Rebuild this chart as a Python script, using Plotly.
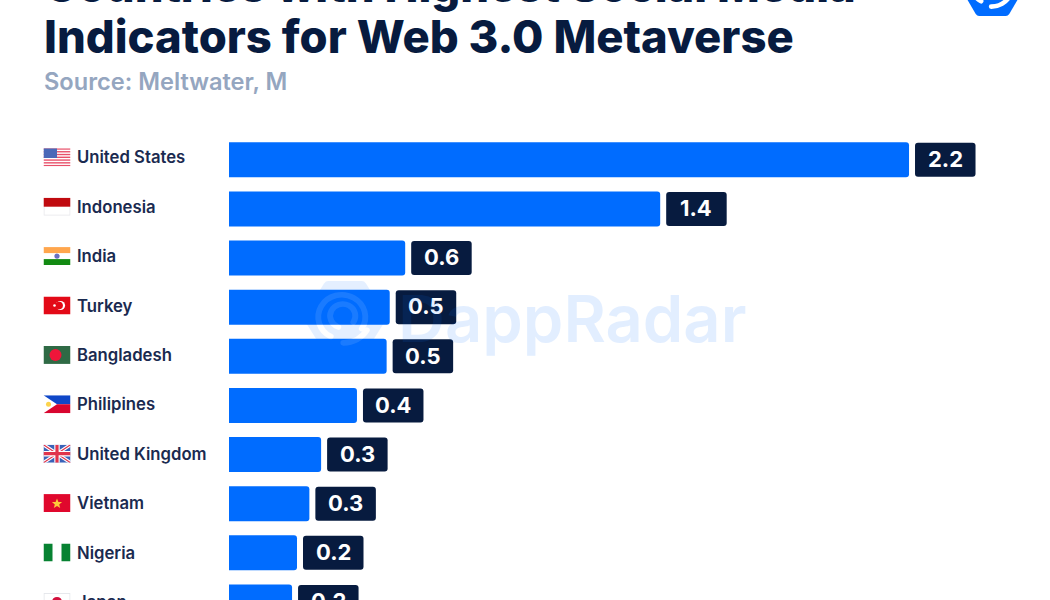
import base64
import plotly.graph_objects as go

countries = ["United States", "Indonesia", "India", "Turkey", "Bangladesh", "Philipines",
             "United Kingdom", "Vietnam", "Nigeria", "Japan"]
values = [2.2, 1.395, 0.57, 0.52, 0.51, 0.414, 0.298, 0.26, 0.22, 0.204]
title_lines = ["Countries with Highest Social Media", "Indicators for Web 3.0 Metaverse"]
subtitle = "Source: Meltwater, M"
watermark = "DappRadar"

W, H = 1050, 600
PX_PER_UNIT = 309.1
X0 = 229
FIRST_Y, STEP = 159.8, 49.13
LABEL_Y, LABEL_STEP = 157.3, 49.4
NAVY = "#071b3f"
BLUE = "#006cff"
FONT = "Inter"


def svg(body, w=27, h=18):
    s = f'<svg xmlns="http://www.w3.org/2000/svg" width="{w}" height="{h}" viewBox="0 0 {w} {h}">{body}</svg>'
    return "data:image/svg+xml;base64," + base64.b64encode(s.encode()).decode()


us_stripes = "".join(f'<rect y="{i*18/13:.2f}" width="27" height="{18/13:.2f}" fill="#e8506a"/>' for i in range(0, 13, 2))
flags = {
    "United States": f'<rect width="27" height="18" fill="#fff"/>{us_stripes}<rect width="13.5" height="9.7" fill="#4a68b8"/>',
    "Indonesia": '<rect x=".5" y=".5" width="26" height="17" fill="#fff" stroke="#e8e8ec"/><rect width="27" height="9" fill="#c00a0f"/>',
    "India": '<rect width="27" height="18" fill="#fff"/><rect width="27" height="6" fill="#ffa64d"/><rect y="12" width="27" height="6" fill="#128a12"/><circle cx="13.5" cy="9" r="2.6" fill="#6a6fc0"/>',
    "Turkey": '<rect width="27" height="18" fill="#e30a17"/><circle cx="17" cy="9" r="4.6" fill="#fff"/><circle cx="15.6" cy="9" r="3.8" fill="#e30a17"/><circle cx="11" cy="9" r="1.3" fill="#fff"/>',
    "Bangladesh": '<rect width="27" height="18" fill="#2f6a45"/><circle cx="12" cy="9" r="6" fill="#f0153a"/>',
    "Philipines": '<rect width="27" height="18" fill="#fff"/><path d="M0 0H27V9H13.5Z" fill="#0f47c8"/><path d="M0 18H27V9H13.5Z" fill="#d8062f"/><circle cx="5" cy="9" r="2.5" fill="#fcd34d"/>',
    "United Kingdom": '<rect width="27" height="18" fill="#3a62b8"/><path d="M0 0L27 18M27 0L0 18" stroke="#fff" stroke-width="3.4"/><path d="M0 0L27 18M27 0L0 18" stroke="#e0344c" stroke-width="1.2"/><path d="M13.5 0V18M0 9H27" stroke="#fff" stroke-width="5.4"/><path d="M13.5 0V18M0 9H27" stroke="#e0344c" stroke-width="3.2"/>',
    "Vietnam": '<rect width="27" height="18" fill="#e0082d"/><path d="M13.5 4.5L14.9 7.9 18.6 8 15.7 10.3 16.7 13.9 13.5 11.8 10.3 13.9 11.3 10.3 8.4 8 12.1 7.9Z" fill="#fdc93a"/>',
    "Nigeria": '<rect width="27" height="18" fill="#fff"/><rect width="9" height="18" fill="#078232"/><rect x="18" width="9" height="18" fill="#078232"/>',
    "Japan": '<rect x=".5" y=".5" width="26" height="17" fill="#fff" stroke="#e4e6ea"/><circle cx="13.5" cy="9" r="5" fill="#d30f3c"/>',
}


def hex_svg(fill, ring, opacity=1.0):
    # flat-top hexagon, concentric arcs like the DappRadar mark
    body = (f'<g opacity="{opacity}"><path d="M25 3Q27 0 30 0H70Q73 0 75 3L98 42Q100 46 98 50L75 89Q73 92 70 92H30Q27 92 25 89L2 50Q0 46 2 42Z" fill="{fill}"/>'
            f'<g fill="none" stroke="{ring}" stroke-width="7" stroke-linecap="round">'
            f'<path d="M33 70A28 28 0 1 1 70 60"/><path d="M42 58A15 15 0 1 1 60 52"/>'
            f'<path d="M48 78A32 32 0 0 0 76 62"/></g></g>')
    return svg(body, 100, 92)


fig = go.Figure(go.Bar(
    x=values, y=list(range(len(countries))), orientation="h", width=35 / STEP,
    marker=dict(color=BLUE, cornerradius=3, line=dict(width=0)),
    hoverinfo="skip",
))

# value badges anchored to the bar ends through the axes
BW, BH, R, GAP = 60.5, 34, 3, 6
badge = (f"M{GAP+R},{-BH/2} H{GAP+BW-R} Q{GAP+BW},{-BH/2} {GAP+BW},{-BH/2+R} V{BH/2-R} "
         f"Q{GAP+BW},{BH/2} {GAP+BW-R},{BH/2} H{GAP+R} Q{GAP},{BH/2} {GAP},{BH/2-R} V{-BH/2+R} "
         f"Q{GAP},{-BH/2} {GAP+R},{-BH/2} Z")
shapes = [dict(type="path", xref="x", yref="y", xsizemode="pixel", ysizemode="pixel",
               xanchor=v, yanchor=i, path=badge, fillcolor=NAVY, line=dict(width=0), layer="above")
          for i, v in enumerate(values)]

ann = []
for i, (c, v) in enumerate(zip(countries, values)):
    ann.append(dict(x=v, y=1 - (FIRST_Y + STEP * i - 0.8) / H, xref="x", yref="paper", text=f"<b>{v:.1f}</b>",
                    showarrow=False, xanchor="center", yanchor="middle", xshift=GAP + BW / 2,
                    font=dict(family=FONT, size=22, color="#ffffff")))
    ann.append(dict(x=75 / W, y=1 - (LABEL_Y + LABEL_STEP * i) / H, xref="paper", yref="paper", text=c,
                    showarrow=False, xanchor="left", yanchor="middle",
                    font=dict(family=FONT, size=16.7, color="#1a2a50", weight=600)))

for line, mid in zip(title_lines, [-14, 36]):
    ann.append(dict(x=42 / W, y=1 - mid / H, xref="paper", yref="paper", text=line, showarrow=False,
                    xanchor="left", yanchor="middle",
                    font=dict(family=FONT, size=45.4, color=NAVY, weight=800)))
ann.append(dict(x=42 / W, y=1 - 81 / H, xref="paper", yref="paper", text=subtitle, showarrow=False,
                xanchor="left", yanchor="middle",
                font=dict(family=FONT, size=23.6, color="#95a6c0", weight=600)))
ann.append(dict(x=396 / W, y=1 - 318 / H, xref="paper", yref="paper", text=watermark, showarrow=False,
                xanchor="left", yanchor="middle", opacity=0.11,
                font=dict(family=FONT, size=65, color=BLUE, weight=600)))

images = []
for i, c in enumerate(countries):
    images.append(dict(source=svg(flags[c]), xref="paper", yref="paper", x=43.5 / W,
                       y=1 - (LABEL_Y + LABEL_STEP * i) / H,
                       sizex=27 / W, sizey=18 / H, xanchor="left", yanchor="middle",
                       sizing="stretch", layer="above"))
images.append(dict(source=hex_svg(BLUE, "#ffffff"), xref="paper", yref="paper", x=959 / W, y=1 - 16 / H,
                   sizex=67 / W, sizey=62 / H, xanchor="left", yanchor="bottom", sizing="stretch", layer="above"))
images.append(dict(source=hex_svg(BLUE, "#ffffff", 0.1), xref="paper", yref="paper", x=303 / W, y=1 - 281 / H,
                   sizex=84 / W, sizey=73 / H, xanchor="left", yanchor="top", sizing="stretch", layer="above"))

fig.update_layout(
    width=W, height=H, margin=dict(l=0, r=0, t=0, b=0, pad=0),
    paper_bgcolor="#ffffff", plot_bgcolor="#ffffff", showlegend=False,
    xaxis=dict(range=[-X0 / PX_PER_UNIT, (W - X0) / PX_PER_UNIT], visible=False, fixedrange=True),
    yaxis=dict(range=[(H - FIRST_Y) / STEP, -FIRST_Y / STEP], visible=False, fixedrange=True),
    shapes=shapes, annotations=ann, images=images,
)
fig.write_html("out.html", config=dict(displayModeBar=False),
               post_script="document.body.style.margin='0';document.documentElement.style.overflow='hidden';")
